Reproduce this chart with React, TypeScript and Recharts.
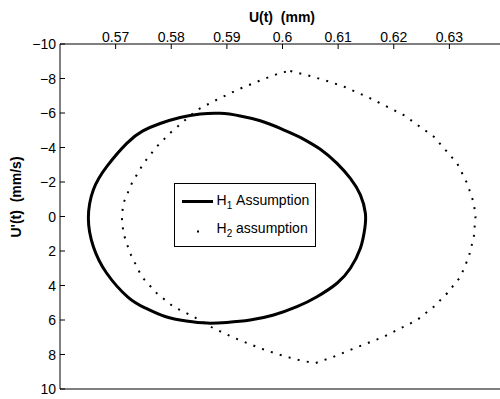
import React from 'react';
import { LineChart, Line, XAxis, YAxis, Legend } from 'recharts';

// U(t) in mm, U'(t) in mm/s
const xTicks = [0.57, 0.58, 0.59, 0.6, 0.61, 0.62, 0.63];
const yTicks = [-10, -8, -6, -4, -2, 0, 2, 4, 6, 8, 10];

// H1 assumption (solid loop)
const h1U = [0.6032, 0.6068, 0.6098, 0.6122, 0.6140, 0.6149, 0.6148, 0.6140, 0.6122, 0.6098, 0.6062, 0.6026, 0.5984, 0.5942, 0.5900, 0.5864, 0.5827, 0.5789, 0.5753, 0.5722, 0.5684, 0.5660, 0.5651, 0.5660, 0.5684, 0.5720, 0.5749, 0.5780, 0.5816, 0.5852, 0.5888, 0.5924, 0.5960, 0.5996, 0.6032];
const h1V = [-4.59, -3.90, -3.08, -2.21, -1.25, -0.19, 0.68, 1.84, 3.00, 3.87, 4.65, 5.23, 5.71, 6.00, 6.14, 6.18, 6.06, 5.80, 5.30, 4.67, 3.29, 1.75, 0.10, -1.55, -2.89, -4.24, -4.96, -5.39, -5.74, -5.94, -5.98, -5.83, -5.55, -5.11, -4.59];

// H2 assumption (dotted loop)
const h2U = [0.6014, 0.6048, 0.6080, 0.6111, 0.6158, 0.6218, 0.6272, 0.6314, 0.6332, 0.6344, 0.6347, 0.6344, 0.6335, 0.6320, 0.6296, 0.6272, 0.6242, 0.6182, 0.6123, 0.6091, 0.6058, 0.6024, 0.5992, 0.5960, 0.5915, 0.5876, 0.5840, 0.5804, 0.5774, 0.5747, 0.5726, 0.5714, 0.5711, 0.5714, 0.5729, 0.5750, 0.5774, 0.5798, 0.5825, 0.5846, 0.5875, 0.5920, 0.5965, 0.5997, 0.6014];
const h2V = [-8.43, -8.16, -7.86, -7.52, -6.85, -5.88, -4.63, -3.08, -1.92, -0.77, 0, 1.17, 2.33, 3.49, 4.45, 5.23, 6.00, 6.97, 7.72, 8.14, 8.51, 8.28, 7.99, 7.64, 7.06, 6.48, 5.81, 5.23, 4.45, 3.49, 2.13, 0.97, 0, -0.77, -1.92, -3.08, -4.05, -4.84, -5.59, -6.17, -6.66, -7.36, -7.95, -8.34, -8.43];

const toPoints = (u: number[], v: number[]) => u.map((x, i) => ({ x, y: v[i] }));
const h1Data = toPoints(h1U, h1V);
const h2Data = toPoints(h2U, h2V);

const FONT = '"Liberation Sans", Arial, Helvetica, sans-serif';
const TICK = 5; // inward tick length
const TOP_GAP = 2;
const LEFT_GAP = 4;
const fmt = (v: number) => String(v).replace('-', '\u2212');

function TopTick(props: any) {
  const { x, y, payload } = props;
  return (
    <g>
      <line x1={x} x2={x} y1={y + TOP_GAP} y2={y + TOP_GAP + TICK} stroke="#000" />
      <text x={x} y={y} textAnchor="middle" fontFamily={FONT} fontSize={14} fill="#000">{fmt(payload.value)}</text>
    </g>
  );
}

function LeftTick(props: any) {
  const { x, y, payload } = props;
  return (
    <g>
      <line x1={x + LEFT_GAP} x2={x + LEFT_GAP + TICK} y1={y} y2={y} stroke="#000" />
      <text x={x} y={y} dy="0.36em" textAnchor="end" fontFamily={FONT} fontSize={14} fill="#000">{fmt(payload.value)}</text>
    </g>
  );
}

function BottomTick(props: any) {
  const { x, y } = props;
  return <line x1={x} x2={x} y1={y} y2={y - TICK} stroke="#000" />;
}

function XTitle() {
  return (
    <text x={282} y={22} textAnchor="middle" fontFamily={FONT} fontSize={14} fontWeight="bold" fill="#000">
      {'U(t)\u00A0 (mm)'}
    </text>
  );
}

function YTitle() {
  return (
    <text x={21} y={197} transform="rotate(-90, 21, 197)" textAnchor="middle" fontFamily={FONT} fontSize={14} fontWeight="bold" fill="#000">
      {"U'(t)\u00A0 (mm/s)"}
    </text>
  );
}

function LegendBox() {
  return (
    <svg width={143} height={65} style={{ display: 'block' }}>
      <rect x={0.5} y={0.5} width={141} height={63} fill="#fff" stroke="#000" strokeWidth={1} />
      <line x1={8} x2={39} y1={18.5} y2={18.5} stroke="#000" strokeWidth={3} />
      <text x={42.5} y={22} fontFamily={FONT} fontSize={14} fill="#000">
        H<tspan fontSize={10} dy={4}>1</tspan><tspan dy={-4}>{'\u00A0Assumption'}</tspan>
      </text>
      <rect x={23} y={47.5} width={2} height={2} fill="#000" />
      <text x={42.5} y={50} fontFamily={FONT} fontSize={14} fill="#000">
        H<tspan fontSize={10} dy={4}>2</tspan><tspan dy={-4}>{'\u00A0assumption'}</tspan>
      </text>
    </svg>
  );
}

export default function App() {
  return (
    <div style={{ position: 'fixed', left: 0, top: 0, width: 500, height: 399, overflow: 'hidden', background: '#fff' }}>
      <LineChart width={520} height={399} margin={{ top: 0, right: 15, left: 0, bottom: 9 }}>
        <XAxis
          xAxisId="top"
          type="number"
          dataKey="x"
          orientation="top"
          domain={[0.56, 0.64]}
          ticks={xTicks}
          height={44}
          tickSize={0}
          tickMargin={TOP_GAP}
          tickLine={false}
          stroke="#000"
          tick={<TopTick />}
          label={<XTitle />}
          allowDataOverflow
        />
        <XAxis
          xAxisId="bottom"
          type="number"
          orientation="bottom"
          domain={[0.56, 0.64]}
          ticks={xTicks}
          height={1}
          tickSize={0}
          tickMargin={0}
          tickLine={false}
          tick={<BottomTick />}
          stroke="#000"
          allowDataOverflow
        />
        <YAxis
          type="number"
          reversed
          domain={[-10, 10]}
          ticks={yTicks}
          width={60}
          tickSize={0}
          tickMargin={LEFT_GAP}
          tickLine={false}
          stroke="#000"
          tick={<LeftTick />}
          label={<YTitle />}
          allowDataOverflow
        />
        <Legend
          layout="vertical"
          align="center"
          verticalAlign="middle"
          content={() => <LegendBox />}
          wrapperStyle={{ position: 'absolute', left: 174, top: 183, width: 143, height: 65 }}
        />
        <Line
          xAxisId="top"
          data={h1Data}
          dataKey="y"
          type="natural"
          stroke="#000"
          strokeWidth={3}
          dot={false}
          activeDot={false}
          isAnimationActive={false}
        />
        <Line
          xAxisId="top"
          data={h2Data}
          dataKey="y"
          type="linear"
          stroke="#000"
          strokeWidth={2}
          strokeDasharray="2 7.3"
          dot={false}
          activeDot={false}
          isAnimationActive={false}
        />
      </LineChart>
    </div>
  );
}
